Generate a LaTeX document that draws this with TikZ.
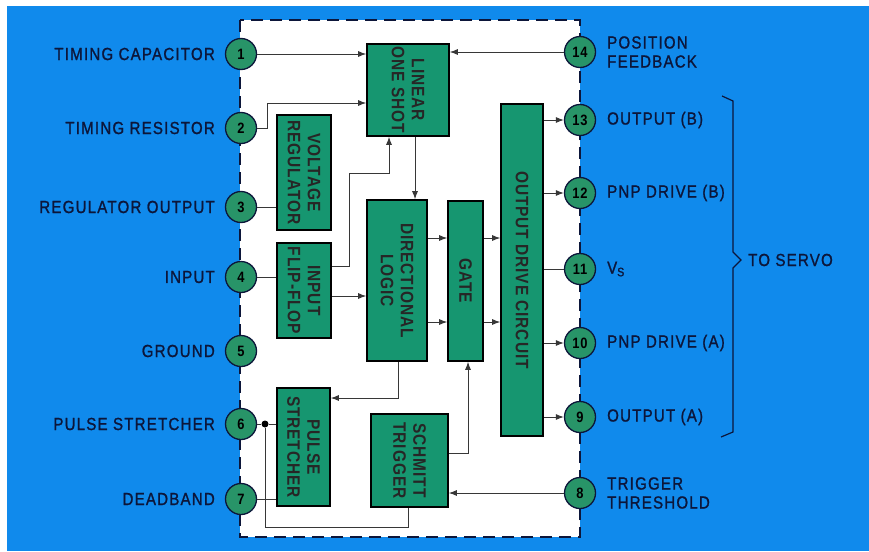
\documentclass[tikz,border=0pt]{standalone}
\usepackage{fontspec}
\setmainfont[FakeStretch=0.86,LetterSpace=5]{Liberation Sans}
\newfontfamily\lblfont[FakeStretch=0.86,LetterSpace=7,FakeBold=1.2]{Liberation Sans}
\usetikzlibrary{arrows.meta}
\definecolor{bg}{RGB}{16,138,236}
\definecolor{ink}{RGB}{12,22,58}
\definecolor{blk}{RGB}{22,150,112}
\definecolor{pinc}{RGB}{40,148,104}
\definecolor{wire}{RGB}{55,55,55}
\begin{document}
\begin{tikzpicture}[x=1pt,y=-1pt,
  blockbox/.style={draw=black, line width=1.6pt, fill=blk, inner sep=0pt},
  blocktext/.style={rotate=-90, align=center, text=black!85, font=\fontsize{18}{20}\selectfont\bfseries, inner sep=0pt},
  pinnode/.style={circle, draw=ink, line width=1.3pt, fill=pinc, minimum size=31pt, inner sep=0pt, text=black, font=\fontsize{15}{15}\selectfont\bfseries},
  lbl/.style={text=ink, font=\fontsize{17.5}{19}\lblfont, inner sep=0pt},
  wireline/.style={draw=wire, line width=0.9pt},
  arr/.style={wireline, -{Latex[length=8pt,width=6pt]}},
  dotnode/.style={circle, fill=black, minimum size=7pt, inner sep=0pt}]
\useasboundingbox (0,0) rectangle (869,551);
\fill[white] (0,0) rectangle (869,551);
\fill[bg] (7,6) rectangle (869,551);
\fill[white] (240,20) rectangle (580,537);
\draw[ink, line width=2pt, dash pattern=on 12pt off 7pt] (240,20) rectangle (580,537);

% blocks
\node[blockbox, minimum width=82pt, minimum height=92pt] (los) at (408,90) {};
\node[blocktext] at (los) {LINEAR\\ONE SHOT};
\node[blockbox, minimum width=54pt, minimum height=115pt] (vreg) at (304,172.5) {};
\node[blocktext] at (vreg) {VOLTAGE\\REGULATOR};
\node[blockbox, minimum width=54pt, minimum height=95pt] (iff) at (304,290.5) {};
\node[blocktext] at (iff) {INPUT\\FLIP-FLOP};
\node[blockbox, minimum width=60pt, minimum height=161pt] (dl) at (397,280.5) {};
\node[blocktext] at (dl) {DIRECTIONAL\\LOGIC};
\node[blockbox, minimum width=35pt, minimum height=160pt] (gate) at (465.5,281) {};
\node[blocktext] at (gate) {GATE};
\node[blockbox, minimum width=42pt, minimum height=332pt] (odc) at (522,270) {};
\node[blocktext] at (odc) {OUTPUT DRIVE CIRCUIT};
\node[blockbox, minimum width=53pt, minimum height=118pt] (ps) at (303.5,447) {};
\node[blocktext] at (ps) {PULSE\\STRETCHER};
\node[blockbox, minimum width=77pt, minimum height=93pt] (st) at (409.5,460.5) {};
\node[blocktext] at (st) {SCHMITT\\TRIGGER};

% pins
\node[pinnode] (p1) at (241,54) {1};
\node[pinnode] (p2) at (241,128) {2};
\node[pinnode] (p3) at (241,207) {3};
\node[pinnode] (p4) at (241,277) {4};
\node[pinnode] (p5) at (241,351) {5};
\node[pinnode] (p6) at (241,424) {6};
\node[pinnode] (p7) at (241,499) {7};
\node[pinnode] (p14) at (580,52) {14};
\node[pinnode] (p13) at (580,120) {13};
\node[pinnode] (p12) at (580,193) {12};
\node[pinnode] (p11) at (580,269) {11};
\node[pinnode] (p10) at (580,343) {10};
\node[pinnode] (p9) at (580,417) {9};
\node[pinnode] (p8) at (580,493) {8};

% left labels
\node[lbl, anchor=east] (l1) at (215,54) {TIMING CAPACITOR};
\node[lbl, anchor=east] (l2) at (215,128) {TIMING RESISTOR};
\node[lbl, anchor=east] (l3) at (215,207) {REGULATOR OUTPUT};
\node[lbl, anchor=east] (l4) at (215,277) {INPUT};
\node[lbl, anchor=east] (l5) at (215,351) {GROUND};
\node[lbl, anchor=east] (l6) at (215,424) {PULSE STRETCHER};
\node[lbl, anchor=east] (l7) at (215,499) {DEADBAND};
% right labels
\node[lbl, anchor=west, align=left] (l14) at (607,52) {POSITION\\FEEDBACK};
\node[lbl, anchor=west] (l13) at (607,120) {OUTPUT (B)};
\node[lbl, anchor=west] (l12) at (607,193) {PNP DRIVE (B)};
\node[lbl, anchor=west] (l11) at (607,269) {V\textsubscript{S}};
\node[lbl, anchor=west] (l10) at (607,343) {PNP DRIVE (A)};
\node[lbl, anchor=west] (l9) at (607,417) {OUTPUT (A)};
\node[lbl, anchor=west, align=left] (l8) at (607,493) {TRIGGER\\THRESHOLD};
\node[lbl, anchor=west] (serv) at (748,260) {TO SERVO};

% brace
\draw[ink, line width=1.2pt] (722,96) -- (733,101) -- (733,252) -- (741,260) -- (733,268) -- (733,432) -- (721,437);

% connectors
\draw[arr] (p1.east) -- (p1.east -| los.west);
\coordinate (c2) at (267,103);
\draw[arr] (p2.east) -| (c2) -- (c2 -| los.west);
\draw[wireline] (p3.east) -- (p3.east -| vreg.west);
\draw[wireline] (p4.east) -- (p4.east -| iff.west);
\coordinate (c4a) at (349,173);
\draw[arr] (iff.east |- 0,266) -| (c4a) -| (los.south -| 389,0);
\draw[arr] (iff.east |- 0,296) -- (dl.west |- 0,296);
\draw[arr] (los.south -| 415,0) -- (dl.north -| 415,0);
\draw[arr] (dl.east |- 0,238) -- (gate.west |- 0,238);
\draw[arr] (dl.east |- 0,322) -- (gate.west |- 0,322);
\draw[arr] (gate.east |- 0,238) -- (odc.west |- 0,238);
\draw[arr] (gate.east |- 0,322) -- (odc.west |- 0,322);
\draw[arr] (p14.west) -- (p14.west -| los.east);
\draw[arr] (odc.east |- p13) -- (p13.west);
\draw[arr] (odc.east |- p12) -- (p12.west);
\draw[wireline] (odc.east |- p11) -- (p11.west);
\draw[arr] (odc.east |- p10) -- (p10.west);
\draw[arr] (odc.east |- p9) -- (p9.west);
\draw[arr] (dl.south -| 398,0) |- (ps.east |- 0,398);
\draw[arr] (st.east |- 0,453) -| (gate.south -| 468,0);
\draw[arr] (p8.west) -- (p8.west -| st.east);
\node[dotnode] (d6) at (265,424) {};
\draw[wireline] (p6.east) -- (d6) -- (d6 -| ps.west);
\coordinate (c6) at (408,527);
\draw[wireline] (d6) |- (c6) -- (st.south -| c6);
\draw[wireline] (p7.east) -- (p7.east -| ps.west);
\end{tikzpicture}
\end{document}
